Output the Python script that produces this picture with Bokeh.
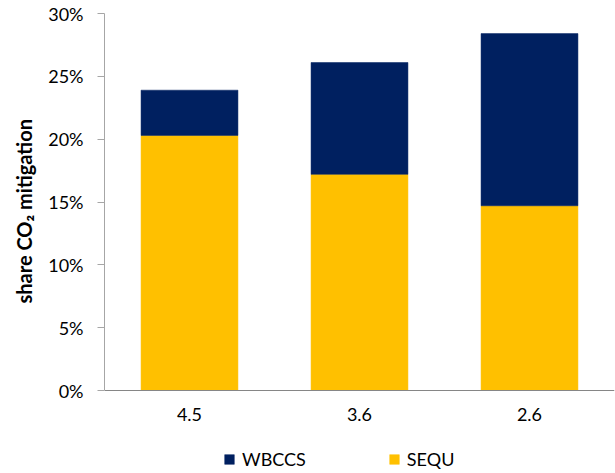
from bokeh.plotting import figure
from bokeh.models import (ColumnDataSource, FactorRange, Range1d, FixedTicker,
                          NumeralTickFormatter, Legend, LegendItem, Title)
from bokeh.embed import file_html
from bokeh.resources import INLINE

# Scenario labels (radiative forcing targets) and share of CO2 mitigation per option
scenarios = ["4.5", "3.6", "2.6"]
sequ = [0.203, 0.172, 0.147]
wbccs = [0.036, 0.089, 0.137]
series = ["SEQU", "WBCCS"]
colors = ["#FFC000", "#002060"]
y_ticks = [0.0, 0.05, 0.10, 0.15, 0.20, 0.25, 0.30]
y_max = 0.30
y_title = "share CO\u2082 mitigation"

FONT = "Lato"

# the frame reaches the bottom edge; the space under zero holds the
# category labels and the legend
FIG_H, TOP, ZERO_PX = 473, 13, 390
frame_h = FIG_H - TOP
y_start = -y_max * (frame_h / (ZERO_PX - TOP) - 1)

src = ColumnDataSource(dict(scenario=scenarios, SEQU=sequ, WBCCS=wbccs))

p = figure(
    x_range=FactorRange(*scenarios, range_padding=0),
    y_range=Range1d(y_start, y_max),
    width=615, height=FIG_H,
    output_backend="svg", toolbar_location=None,
    min_border_left=104, min_border_right=1,
    min_border_top=TOP, min_border_bottom=0,
)

renderers = p.vbar_stack(series, x="scenario", width=0.57, color=colors,
                         line_color=colors, line_width=0.5, source=src)

p.xgrid.visible = False
p.ygrid.visible = False
p.outline_line_color = None

# y axis
ya = p.yaxis[0]
ya.bounds = (0, y_max)
ya.ticker = FixedTicker(ticks=y_ticks)
ya.formatter = NumeralTickFormatter(format="0%")
ya.axis_line_color = "#A6A6A6"
ya.major_tick_line_color = "#A6A6A6"
ya.major_tick_out = 7
ya.major_tick_in = 0
ya.minor_tick_line_color = None
ya.major_label_standoff = 14
ya.major_label_text_font = FONT
ya.major_label_text_font_size = "18px"
ya.major_label_text_color = "#000000"

# y title, placed along the 0-30% span rather than the whole frame
p.add_layout(Title(text=y_title, align="left", offset=170,
                   vertical_align="top", standoff=16,
                   text_font=FONT, text_font_style="bold",
                   text_font_size="20px", text_color="#000000"), "left")

# x axis drawn at zero
xa = p.xaxis[0]
xa.fixed_location = 0
xa.axis_line_color = "#868686"
xa.major_tick_line_color = None
xa.minor_tick_line_color = None
xa.major_tick_out = 0
xa.major_label_standoff = 17
xa.major_label_text_font = FONT
xa.major_label_text_font_size = "18px"
xa.major_label_text_color = "#000000"

legend = Legend(
    items=[LegendItem(label="WBCCS", renderers=[renderers[1]]),
           LegendItem(label="SEQU", renderers=[renderers[0]])],
    orientation="horizontal",
    location=(119, 3),
    border_line_color=None,
    background_fill_alpha=0,
    glyph_width=12, glyph_height=12,
    label_standoff=7,
    spacing=82,
    padding=0, margin=0,
    label_text_font=FONT,
    label_text_font_size="18px",
    label_text_color="#000000",
)
p.add_layout(legend, "center")

open("out.html", "w").write(file_html(p, INLINE))
